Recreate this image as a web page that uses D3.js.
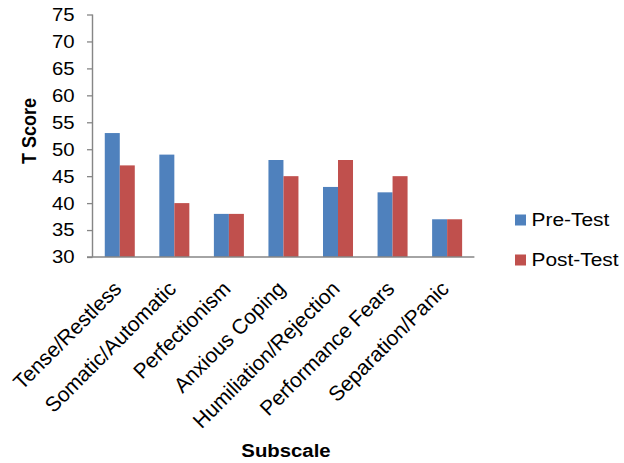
<!DOCTYPE html>
<html><head><meta charset="utf-8">
<script src="https://cdn.jsdelivr.net/npm/d3@7"></script>
<style>
html,body{margin:0;padding:0;background:#fff;}
text{font-family:"Liberation Sans",Arial,sans-serif;fill:#000;}
</style></head>
<body>
<svg id="chart" width="624" height="463"></svg>
<script>
const categories = ["Tense/Restless","Somatic/Automatic","Perfectionism","Anxious Coping","Humiliation/Rejection","Performance Fears","Separation/Panic"];
const preTest = [53,49,38,48,43,42,37];
const postTest = [47,40,38,45,48,45,37];
const seriesNames = ["Pre-Test","Post-Test"];
const seriesColors = ["#4F81BD","#C0504D"];
const yTicks = [30,35,40,45,50,55,60,65,70,75];

(function(){
const sx = 1.1; // horizontal stretch of horizontal texts in the reference
const svg = d3.select("#chart");
const root = svg.append("g").attr("transform",`scale(${sx},1)`);
const L = 92.5, R = 474.4, mTop = 14.5, mBottom = 257;
const mLeft = L/sx, mRight = R/sx;
const FONT = "Liberation Sans, Arial, sans-serif";

const x = d3.scaleBand().domain(categories).range([mLeft,mRight]).paddingInner(0.45).paddingOuter(0.225);
const xs = d3.scaleBand().domain(seriesNames).range([0,x.bandwidth()]);
const y = d3.scaleLinear().domain([30,75]).range([mBottom,mTop]);

const data = categories.map((c,i)=>({cat:c, vals:[preTest[i],postTest[i]]}));

root.append("g").selectAll("g").data(data).enter().append("g")
  .attr("transform",d=>`translate(${x(d.cat)},0)`)
  .selectAll("rect").data(d=>d.vals.map((v,j)=>({v,j}))).enter().append("rect")
  .attr("x",d=>xs(seriesNames[d.j]))
  .attr("width",xs.bandwidth())
  .attr("y",d=>y(d.v))
  .attr("height",d=>y(30)-y(d.v))
  .attr("fill",d=>seriesColors[d.j]);

const yAxis = d3.axisLeft(y).tickValues(yTicks).tickSize(5.5/sx).tickPadding(12.5/sx);
const ya = root.append("g").attr("transform",`translate(${mLeft},0)`).call(yAxis);
ya.select(".domain").attr("stroke","#868686").attr("stroke-width",1.3).attr("d",`M0,${mTop}V${mBottom}`);
ya.selectAll(".tick line").attr("stroke","#868686").attr("stroke-width",1.3);
ya.selectAll(".tick text").attr("font-size","18.5px").attr("font-family",FONT).attr("fill","#000");

// x axis drawn unstretched (rotated labels are not stretched)
const xScreen = x.copy().range([L,R]);
const xAxis = d3.axisBottom(xScreen).tickSize(0).tickPadding(0);
const xa = svg.append("g").attr("transform",`translate(0,${mBottom})`).call(xAxis);
xa.select(".domain").attr("stroke","#868686").attr("stroke-width",1.3).attr("d",`M${L-5.5},0H${R}`);
xa.selectAll(".tick text")
  .attr("font-size","21px").attr("font-family",FONT).attr("fill","#000")
  .attr("text-anchor","end")
  .attr("transform","translate(3,33) rotate(-45)")
  .attr("dy","0").attr("y",0);

root.append("text").attr("x",286/sx).attr("y",457).attr("text-anchor","middle")
  .attr("font-size","18.5px").attr("font-weight","bold").text("Subscale");
root.append("text").attr("transform",`translate(${36/sx},131) rotate(-90)`).attr("text-anchor","middle")
  .attr("font-size","18px").attr("font-weight","bold").text("T Score");

const lg = root.append("g").attr("transform",`translate(${515/sx},0)`);
const ly = [220,260];
seriesNames.forEach((n,i)=>{
  lg.append("rect").attr("x",0).attr("y",ly[i]-5.5).attr("width",11/sx).attr("height",11).attr("fill",seriesColors[i]);
  lg.append("text").attr("x",16.5/sx).attr("y",ly[i]+6.5).attr("font-size","19px").text(n);
});
})();
</script>
</body></html>
